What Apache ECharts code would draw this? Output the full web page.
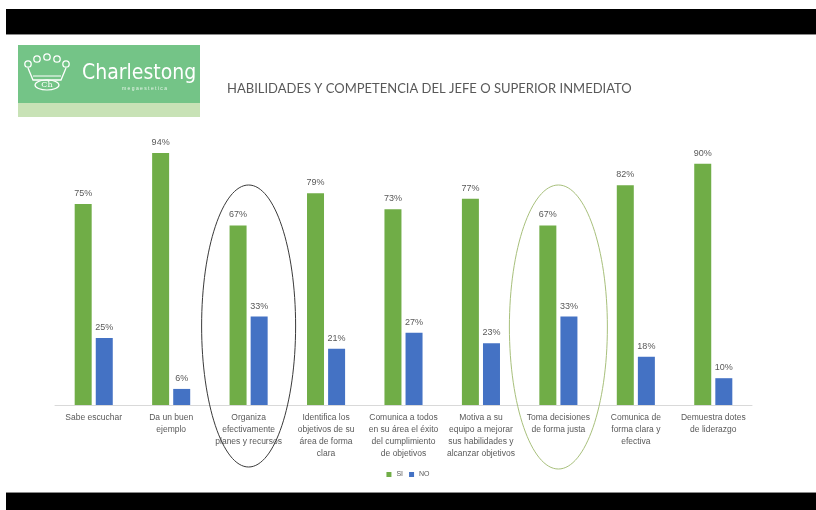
<!DOCTYPE html>
<html>
<head>
<meta charset="utf-8">
<script src="https://cdn.jsdelivr.net/npm/echarts@6/dist/echarts.min.js"></script>
<style>
html,body{margin:0;padding:0;background:#fff;}
#c{width:816px;height:510px;}
</style>
</head>
<body>
<div id="c"></div>
<script>
const title = 'HABILIDADES Y COMPETENCIA DEL JEFE O SUPERIOR INMEDIATO';
const categories = [
  'Sabe escuchar',
  'Da un buen\nejemplo',
  'Organiza\nefectivamente\nplanes y recursos',
  'Identifica los\nobjetivos de su\nárea de forma\nclara',
  'Comunica a todos\nen su área el éxito\ndel cumplimiento\nde objetivos',
  'Motiva a su\nequipo a mejorar\nsus habilidades y\nalcanzar objetivos',
  'Toma decisiones\nde forma justa',
  'Comunica de\nforma clara y\nefectiva',
  'Demuestra dotes\nde liderazgo'
];
const siValues = [75, 94, 67, 79, 73, 77, 67, 82, 90];
const noValues = [25, 6, 33, 21, 27, 23, 33, 18, 10];
const seriesNames = ['SI', 'NO'];
const circledBlack = 2;  // index of category circled in dark ellipse
const circledGreen = 6;  // index of category circled in green ellipse

const chart = echarts.init(document.getElementById('c'), null, {renderer: 'canvas'});
const labelStyle = {show: true, position: 'top', distance: 6, formatter: '{c}%', color: '#595959', fontSize: 9, fontFamily: 'Liberation Sans'};

const crown = [
  {type: 'circle', shape: {cx: 28, cy: 64, r: 3.2}, style: {fill: 'none', stroke: '#fff', lineWidth: 1.3}},
  {type: 'circle', shape: {cx: 37, cy: 59, r: 3.2}, style: {fill: 'none', stroke: '#fff', lineWidth: 1.3}},
  {type: 'circle', shape: {cx: 47, cy: 57, r: 3.2}, style: {fill: 'none', stroke: '#fff', lineWidth: 1.3}},
  {type: 'circle', shape: {cx: 57, cy: 59, r: 3.2}, style: {fill: 'none', stroke: '#fff', lineWidth: 1.3}},
  {type: 'circle', shape: {cx: 66, cy: 64, r: 3.2}, style: {fill: 'none', stroke: '#fff', lineWidth: 1.3}},
  {type: 'polyline', shape: {points: [[28, 68], [33, 80], [61, 80], [66, 68]]}, style: {fill: 'none', stroke: '#fff', lineWidth: 1.3}},
  {type: 'line', shape: {x1: 33, y1: 76, x2: 61, y2: 76}, style: {stroke: '#fff', lineWidth: 1}},
  {type: 'ellipse', shape: {cx: 47, cy: 85, rx: 12, ry: 5}, style: {fill: 'none', stroke: '#fff', lineWidth: 1.2}},
  {type: 'text', style: {x: 47, y: 85, text: 'Ch', fill: '#fff', font: '8px "DejaVu Serif"', align: 'center', verticalAlign: 'middle'}}
];

const baseOption = {
  backgroundColor: '#ffffff',
  animation: false,
  grid: {left: 55, right: 64, top: 137, bottom: 105, containLabel: false},
  legend: {
    data: seriesNames, bottom: 27, left: 'center', itemWidth: 5, itemHeight: 5, itemGap: 6,
    icon: 'rect', textStyle: {color: '#595959', fontSize: 7, fontFamily: 'Liberation Sans'}
  },
  xAxis: {
    type: 'category', data: categories,
    axisLine: {lineStyle: {color: '#d9d9d9', width: 1}},
    axisTick: {show: false},
    axisLabel: {interval: 0, color: '#595959', fontSize: 8.5, lineHeight: 12, margin: 7, fontFamily: 'Liberation Sans'}
  },
  yAxis: {type: 'value', min: 0, max: 100, show: false, splitLine: {show: false}},
  series: [
    {name: seriesNames[0], type: 'bar', data: siValues, itemStyle: {color: '#70ad47'}, barWidth: 17, barGap: '24%', label: labelStyle},
    {name: seriesNames[1], type: 'bar', data: noValues, itemStyle: {color: '#4472c4'}, barWidth: 17, label: labelStyle}
  ]
};
chart.setOption(baseOption);

// annotation ellipses around two categories, positioned from the axis scale
const cxBlack = chart.convertToPixel({xAxisIndex: 0}, circledBlack);
const cxGreen = chart.convertToPixel({xAxisIndex: 0}, circledGreen);

chart.setOption({
  graphic: [
    {id: 'topband', type: 'rect', shape: {x: 6, y: 9, width: 810, height: 25}, style: {fill: '#000'}},
    {id: 'topline', type: 'line', shape: {x1: 6, y1: 34.5, x2: 816, y2: 34.5}, style: {stroke: '#8a8a8a', lineWidth: 1}},
    {id: 'botline', type: 'line', shape: {x1: 6, y1: 492.5, x2: 816, y2: 492.5}, style: {stroke: '#8a8a8a', lineWidth: 1}},
    {id: 'botband', type: 'rect', shape: {x: 6, y: 493, width: 810, height: 17}, style: {fill: '#000'}},
    {id: 'logobg', type: 'rect', shape: {x: 18, y: 45, width: 182, height: 58}, style: {fill: '#74c487'}},
    {id: 'logoband', type: 'rect', shape: {x: 18, y: 103, width: 182, height: 14}, style: {fill: '#c8e2b6'}},
    {id: 'crown', type: 'group', children: crown},
    {id: 'brand', type: 'text', style: {x: 82, y: 74, text: 'Charlestong', fill: '#fff', font: '21px "DejaVu Sans Condensed"', verticalAlign: 'middle'}},
    {id: 'sub', type: 'text', style: {x: 122, y: 89, text: 'm e g a e s t e t i c a', fill: '#e8f5ea', font: '5px "Liberation Sans"', verticalAlign: 'middle'}},
    {id: 'title', type: 'text', style: {x: 227, y: 89, text: title, fill: '#595959', font: '13px Lato', verticalAlign: 'middle'}},
    {id: 'ellBlack', type: 'ellipse', z: 100, shape: {cx: cxBlack, cy: 326, rx: 47, ry: 141}, style: {fill: 'none', stroke: '#3a3a3a', lineWidth: 1}},
    {id: 'ellGreen', type: 'ellipse', z: 100, shape: {cx: cxGreen, cy: 327, rx: 49, ry: 142}, style: {fill: 'none', stroke: '#a8c07c', lineWidth: 1}}
  ]
});
</script>
</body>
</html>
